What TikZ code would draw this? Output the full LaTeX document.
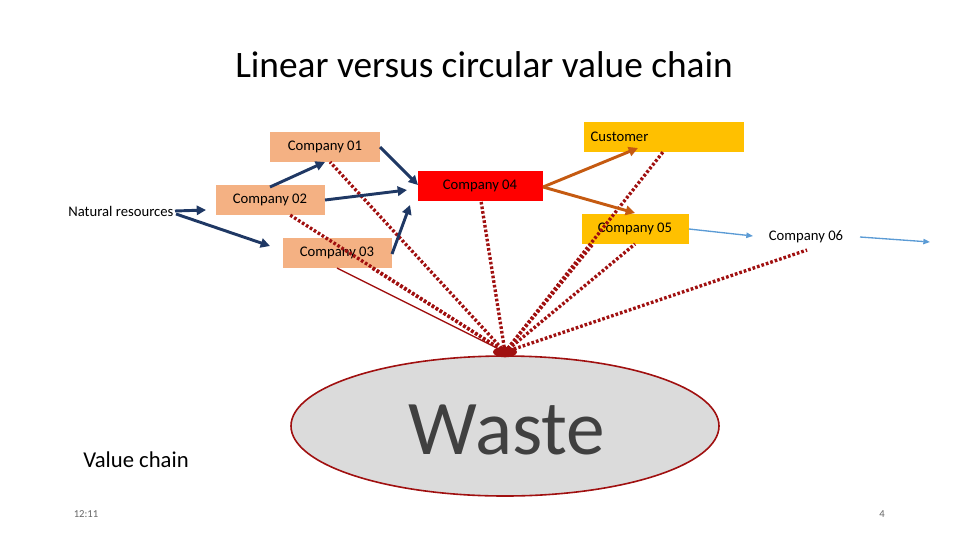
\documentclass[tikz,border=0pt]{standalone}
\usepackage{fontspec}
\setmainfont{Carlito}
\usetikzlibrary{arrows.meta,shapes.geometric}
\definecolor{salmon}{RGB}{244,177,131}
\definecolor{gold}{RGB}{255,192,0}
\definecolor{navy}{RGB}{31,56,100}
\definecolor{ochre}{RGB}{197,90,17}
\definecolor{sky}{RGB}{91,155,213}
\definecolor{dred}{RGB}{160,16,16}
\tikzset{
 box/.style={minimum width=#1*0.75pt, minimum height=22.5pt, inner sep=0pt, font=\fontsize{11}{13}\selectfont},
 nav/.style={navy, line width=2.2pt, -{Triangle[length=7pt,width=7pt]}},
 orn/.style={ochre, line width=2.2pt, -{Triangle[length=7pt,width=7pt]}},
 blu/.style={sky, line width=1pt, -{Triangle[length=5pt,width=4pt]}},
 wst/.style={dred, line width=2.5pt, dash pattern=on 2pt off 1.5pt},
}
\begin{document}
\begin{tikzpicture}[x=0.75pt,y=-0.75pt]
\useasboundingbox (0,0) rectangle (960,540);
\node (title) at (484,65) {\fontsize{28}{32}\selectfont Linear versus circular value chain};
\node[box=110, fill=salmon] (c1) at (325,147) {Company 01};
\node[box=109, fill=salmon] (c2) at (270,200) {Company 02};
\node[box=109, fill=salmon] (c3) at (337,253) {Company 03};
\node[box=125, fill=red] (c4) at (480,186) {Company 04};
\node[box=160, fill=gold, text width=110pt, align=left, inner xsep=5pt] (cu) at (664,137) {Customer};
\node[box=107, fill=gold] (c5) at (635,229) {Company 05};
\node[box=100] (c6) at (806,237) {Company 06};
\node[font=\fontsize{11}{13}\selectfont, anchor=east, inner sep=1pt] (nr) at (175,211) {Natural resources};
\coordinate (nrend) at (930,242);
\node[ellipse, draw=dred, line width=1.2pt, fill=black!14, minimum width=321pt, minimum height=105pt, inner sep=0pt] (w) at (505,426) {};
\node[text=black!75, font=\fontsize{58}{60}\selectfont] (wt) at (507,430) {Waste};
\node[font=\fontsize{17}{20}\selectfont] (vc) at (136,460) {Value chain};
\node[font=\fontsize{8}{10}\selectfont, text=black!60] (t) at (86,514) {12:11};
\node[font=\fontsize{8}{10}\selectfont, text=black!60] (p) at (882,514) {4};
\coordinate (hub) at (505,352);
% waste lines
\draw[wst] (hub) -- (330,162);
\draw[wst] (hub) -- (290,215);
\draw[wst] (hub) -- (372,268);
\draw[dred, line width=1pt] (hub) -- (337,268);
\draw[wst] (hub) -- (481,201);
\draw[wst] (hub) -- (663,152);
\draw[wst] (hub) -- (593,244);
\draw[wst] (hub) -- (635,244);
\draw[wst] (hub) -- (807,250);
\fill[dred] (hub) ellipse (9pt and 4pt);
% flows
\draw[nav] (nr.east) -- (206,210);
\draw[nav] (176,214) -- (270,246);
\draw[nav] (270,187) -- (325,162);
\draw[nav] (325,200) -- (407,190);
\draw[nav] (392,254) -- (410,205);
\draw[nav] (380,147) -- (418,185);
\draw[orn] (543,187) -- (638,148);
\draw[orn] (543,187) -- (635,213);
\draw[blu] (689,229) -- (753,236);
\draw[blu] (860,237) -- (nrend);
\end{tikzpicture}
\end{document}
